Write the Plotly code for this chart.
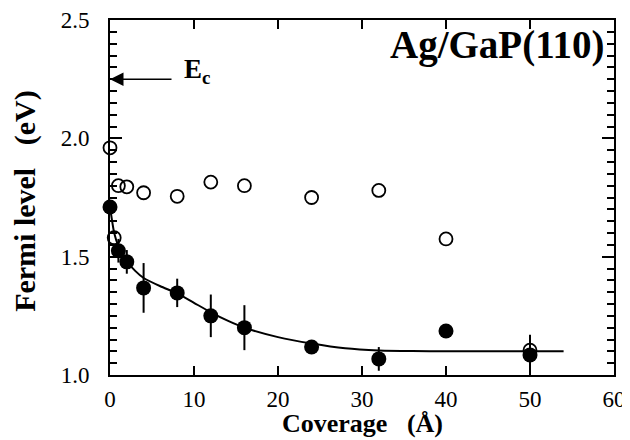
import plotly.graph_objects as go

# Open circles
open_x = [0, 0.5, 1, 2, 4, 8, 12, 16, 24, 32, 40, 50]
open_y = [1.96, 1.58, 1.80, 1.795, 1.77, 1.755, 1.815, 1.80, 1.75, 1.78, 1.575, 1.105]

# Filled circles with error bars
filled_x = [0, 1, 2, 4, 8, 12, 16, 24, 32, 40, 50]
filled_y = [1.71, 1.525, 1.478, 1.368, 1.347, 1.25, 1.20, 1.118, 1.068, 1.186, 1.085]
filled_err = [0, 0.05, 0.05, 0.105, 0.06, 0.09, 0.095, 0, 0.05, 0, 0.085]

# Fitted curve
curve_x = [0, 0.5, 1, 2, 3, 4, 6, 8, 10, 12, 14, 16, 20, 24, 28, 32, 36, 40, 46, 54]
curve_y = [1.71, 1.60, 1.545, 1.48, 1.44, 1.41, 1.375, 1.345, 1.305, 1.265, 1.23, 1.20, 1.16, 1.133, 1.113, 1.104, 1.101, 1.10, 1.10, 1.10]

ec_value = 2.25

font_serif = "Liberation Serif"

fig = go.Figure()

fig.add_trace(go.Scatter(x=curve_x, y=curve_y, mode="lines",
                         line=dict(color="black", width=2, shape="spline", smoothing=0.6),
                         showlegend=False, hoverinfo="skip"))

fig.add_trace(go.Scatter(x=open_x, y=open_y, mode="markers", cliponaxis=False,
                         marker=dict(symbol="circle-open", size=13, color="black",
                                     line=dict(width=1.8, color="black")),
                         showlegend=False))

fig.add_trace(go.Scatter(x=filled_x, y=filled_y, mode="markers", cliponaxis=False,
                         marker=dict(symbol="circle", size=15, color="black"),
                         error_y=dict(type="data", array=filled_err, visible=True,
                                      color="black", thickness=2, width=0),
                         showlegend=False))

# Ec arrow
fig.add_annotation(x=0, y=ec_value, ax=7.5, ay=ec_value, xref="x", yref="y",
                   axref="x", ayref="y", showarrow=True, arrowhead=2,
                   arrowsize=1.8, arrowwidth=1.5, arrowcolor="black", text="")
fig.add_annotation(x=8.6, y=ec_value + 0.035, xref="x", yref="y", showarrow=False,
                   text="<b>E</b><sub><b>c</b></sub>",
                   font=dict(family=font_serif, size=27, color="black"),
                   xanchor="left", yanchor="middle")

fig.add_annotation(x=59, y=2.395, xref="x", yref="y", showarrow=False,
                   text="<b>Ag/GaP(110)</b>",
                   font=dict(family=font_serif, size=39, color="black"),
                   xanchor="right", yanchor="middle")

# y-axis title
fig.add_annotation(x=-0.169, y=0.49, xref="paper", yref="paper", showarrow=False,
                   text="<b>Fermi level&nbsp;&nbsp;&nbsp;(eV)</b>", textangle=-90,
                   font=dict(family=font_serif, size=30, color="black"),
                   xanchor="center", yanchor="middle")

# x-axis title
fig.add_annotation(x=0.5, y=-0.137, xref="paper", yref="paper", showarrow=False,
                   text="<b>Coverage&nbsp;&nbsp;&nbsp;(Å)</b>",
                   font=dict(family=font_serif, size=26, color="black"),
                   xanchor="center", yanchor="middle")

fig.update_xaxes(range=[0, 60], tickvals=[0, 10, 20, 30, 40, 50, 60],
                 ticks="inside", ticklen=9, tickwidth=1.5, tickcolor="black",
                 showline=True, linecolor="black", linewidth=2, mirror="ticks",
                 showgrid=False, zeroline=False, automargin=False,
                 tickfont=dict(family=font_serif, size=23, color="black"),
                 ticklabelstandoff=2)
fig.update_yaxes(range=[1.0, 2.5], tickvals=[1.0, 1.5, 2.0, 2.5], ticktext=["1.0", "1.5", "2.0", "2.5"],
                 ticks="inside", ticklen=12, tickwidth=1.5, tickcolor="black",
                 minor=dict(dtick=0.05, ticks="inside", ticklen=7, tickwidth=1.5, tickcolor="black", showgrid=False),
                 showline=True, linecolor="black", linewidth=2, mirror="ticks",
                 showgrid=False, zeroline=False, automargin=False,
                 tickfont=dict(family=font_serif, size=23, color="black"),
                 ticklabelstandoff=14)

fig.update_layout(width=622, height=432,
                  margin=dict(l=102, r=16, t=12, b=65),
                  paper_bgcolor="white", plot_bgcolor="white")

fig.write_html("out.html")
